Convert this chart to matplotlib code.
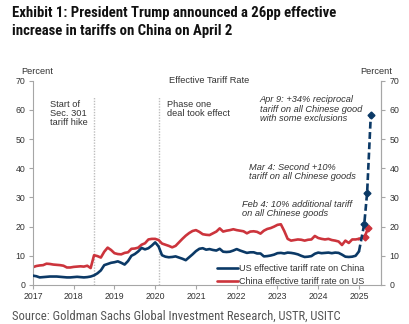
import numpy as np
import matplotlib
matplotlib.use("Agg")
import matplotlib.pyplot as plt

plt.rcParams['font.family'] = ['Liberation Sans', 'DejaVu Sans']

# Monthly effective tariff rates, Jan 2017 .. Jan 2025 (percent)
us_on_china = [
    3.2, 3.0, 2.6, 2.7, 2.8, 2.9, 2.9, 2.9, 2.8, 2.7, 2.6, 2.6,
    2.7, 2.8, 2.7, 2.6, 2.7, 2.9, 3.3, 4.0, 5.0, 6.8, 7.2, 7.6,
    7.8, 8.1, 7.6, 7.0, 8.2, 10.0, 10.6, 11.5, 12.7, 12.2, 12.6, 13.5,
    14.6, 13.2, 10.2, 9.7, 9.5, 9.6, 9.8, 9.4, 9.0, 8.5, 9.5, 10.5,
    11.6, 12.4, 12.6, 12.1, 12.3, 12.0, 11.8, 12.4, 11.4, 11.3, 11.4, 11.8,
    12.3, 11.8, 11.4, 11.0, 11.2, 11.2, 10.8, 10.8, 9.8, 9.9, 10.1, 10.4,
    10.9, 11.0, 10.8, 11.1, 11.0, 10.8, 10.5, 10.0, 9.6, 9.7, 9.9, 10.7,
    11.1, 10.9, 11.0, 11.1, 10.9, 11.1, 11.0, 10.4, 9.7, 9.6, 9.7, 10.0,
    11.5,
]
china_on_us = [
    6.1, 6.5, 6.7, 6.8, 7.3, 7.2, 7.0, 6.9, 6.8, 6.6, 6.0, 6.0,
    6.2, 6.3, 6.4, 6.3, 6.6, 5.8, 10.2, 9.9, 9.4, 11.4, 12.8, 12.0,
    10.9, 10.6, 10.5, 11.0, 11.2, 12.4, 12.5, 12.8, 13.8, 14.3, 15.6, 15.8,
    15.8, 15.4, 14.2, 13.8, 13.4, 12.9, 13.4, 14.6, 15.8, 16.9, 17.8, 18.5,
    18.8, 18.2, 17.4, 17.2, 17.1, 17.7, 18.3, 19.4, 18.3, 18.6, 18.8, 19.1,
    18.8, 18.6, 18.4, 17.7, 18.3, 18.4, 18.2, 17.6, 18.6, 19.2, 19.5, 20.0,
    20.6, 20.8, 18.5, 15.8, 15.2, 15.4, 15.6, 15.5, 15.2, 15.5, 15.6, 16.8,
    16.1, 15.8, 15.6, 15.8, 15.4, 15.2, 14.9, 13.7, 15.2, 14.4, 15.6, 15.6,
    15.8,
]
months = 2017 + np.arange(len(us_on_china)) / 12.0

# 2025 tariff steps (decimal years)
us_step_x = [2025.13, 2025.20, 2025.29]
us_step_y = [20.9, 31.6, 58.2]
china_step_x = [2025.14, 2025.22]
china_step_y = [16.5, 19.4]

event_x = [2018.5, 2020.1]
year_ticks = list(range(2017, 2026))
y_ticks = list(range(0, 71, 10))

navy = "#0b3966"
red = "#cc343c"
text_c = "#333333"
spine_c = "#a6a6a6"
note_fs = 6.7
tick_fs = 6.3

cond = ['Roboto Condensed', 'Fira Sans Condensed', 'PT Sans Narrow',
        'Archivo Narrow', 'Liberation Sans Narrow', 'Liberation Sans']

fig = plt.figure(figsize=(4.09, 3.24), dpi=100)
ax = fig.add_axes([0.0795, 0.1204, 0.852, 0.6306])

ax.set_xlim(2016.99, 2025.54)
ax.set_ylim(0, 70)

for xv in event_x:
    ax.plot([xv, xv], [0, 64.5], color="#bdbdbd", lw=1.0, ls=(0, (1, 1)), zorder=1)

ax.plot(months, us_on_china, color=navy, lw=1.9, zorder=3,
        solid_capstyle="round", label="US effective tariff rate on China")
ax.plot(months, china_on_us, color=red, lw=1.9, zorder=2,
        solid_capstyle="round", label="China effective tariff rate on US")

ax.plot([months[-1]] + china_step_x, [china_on_us[-1]] + china_step_y,
        color=red, lw=1.9, zorder=2)
ax.plot(china_step_x, china_step_y, ls="none", marker="D", ms=3.5,
        color=red, zorder=2)

ax.plot([months[-1]] + us_step_x, [us_on_china[-1]] + us_step_y,
        color=navy, lw=1.9, ls=(0, (2.6, 1.3)), zorder=4)
ax.plot(us_step_x, us_step_y, ls="none", marker="D", ms=3.5,
        color=navy, zorder=4)

# axes styling
ax.spines["top"].set_visible(False)
for s in ["left", "bottom", "right"]:
    ax.spines[s].set_color(spine_c)
    ax.spines[s].set_linewidth(0.8)

ax.set_xticks(year_ticks)
ax.set_xticklabels([str(y) for y in year_ticks])
ax.set_yticks(y_ticks)
ax.tick_params(axis="both", colors=spine_c, labelcolor=text_c, labelsize=tick_fs,
               length=3, width=0.8, pad=2)

ax2 = ax.twinx()
ax2.set_ylim(0, 70)
ax2.set_yticks(y_ticks)
ax2.tick_params(axis="y", colors=spine_c, labelcolor=text_c, labelsize=tick_fs,
                length=3, width=0.8, pad=3)
for s in ["top", "left", "bottom"]:
    ax2.spines[s].set_visible(False)
ax2.spines["right"].set_color(spine_c)
ax2.spines["right"].set_linewidth(0.8)

fig.text(21.5 / 409, 1 - 72 / 324, "Percent", fontsize=note_fs, color=text_c,
         ha="left", va="center")
fig.text(392.5 / 409, 1 - 72 / 324, "Percent", fontsize=note_fs, color=text_c,
         ha="right", va="center")
ax.text(0.508, 1.0, "Effective Tariff Rate", transform=ax.transAxes,
        fontsize=note_fs, color=text_c, ha="center", va="center")

ax.text(2017.42, 63.5, "Start of\nSec. 301\ntariff hike", fontsize=note_fs,
        color=text_c, ha="left", va="top", linespacing=1.05)
ax.text(2020.28, 63.5, "Phase one\ndeal took effect", fontsize=note_fs,
        color=text_c, ha="left", va="top", linespacing=1.05)

ax.text(2022.57, 65.0, "Apr 9: +34% reciprocal\ntariff on all Chinese good\nwith some exclusions",
        fontsize=note_fs, style="italic", color=text_c, ha="left", va="top",
        linespacing=1.05)
ax.text(2022.30, 41.8, "Mar 4: Second +10%\ntariff on all Chinese goods",
        fontsize=note_fs, style="italic", color=text_c, ha="left", va="top",
        linespacing=1.05)
ax.text(2022.13, 29.2, "Feb 4: 10% additional tariff\non all Chinese goods",
        fontsize=note_fs, style="italic", color=text_c, ha="left", va="top",
        linespacing=1.05)

leg = ax.legend(loc="lower left", bbox_to_anchor=(0.52, -0.025), frameon=False,
                fontsize=6.5, handlelength=2.3, handletextpad=0.15,
                labelspacing=0.5, borderaxespad=0.0)
for t in leg.get_texts():
    t.set_color(text_c)

fig.text(12 / 409, 1 - 6.5 / 324,
         "Exhibit 1: President Trump announced a 26pp effective\nincrease in tariffs on China on April 2",
         fontsize=10.6, fontweight="bold", family=cond, color="#111111",
         ha="left", va="top", linespacing=1.35)
fig.text(12 / 409, 1 - 316 / 324,
         "Source: Goldman Sachs Global Investment Research, USTR, USITC",
         fontsize=9.1, family=cond, color="#555555", ha="left", va="center")

fig.savefig("out.png", dpi=100)
